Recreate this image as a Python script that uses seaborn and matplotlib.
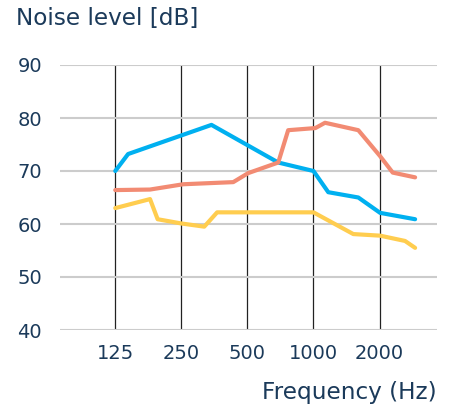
import matplotlib
matplotlib.use("Agg")
import matplotlib.pyplot as plt
import seaborn as sns
import pandas as pd

# Data
blue_freq = [125, 143, 343, 691, 1000, 1168, 1601, 2012, 2905]
blue_db = [70.0, 73.2, 78.7, 71.6, 70.0, 66.0, 65.0, 62.1, 60.9]

salmon_freq = [125, 180, 255, 431, 504, 691, 767, 1020, 1129, 1601, 2012, 2297, 2905]
salmon_db = [66.4, 66.5, 67.5, 67.9, 69.6, 71.6, 77.7, 78.1, 79.1, 77.7, 72.8, 69.7, 68.8]

yellow_freq = [125, 180, 195, 250, 318, 364, 1000, 1519, 2012, 2614, 2905]
yellow_db = [63.0, 64.7, 60.9, 60.1, 59.5, 62.2, 62.2, 58.1, 57.8, 56.8, 55.5]

x_ticks = [125, 250, 500, 1000, 2000]
x_labels = ["125", "250", "500", "1000", "2000"]
y_ticks = [40, 50, 60, 70, 80, 90]

colors = {"blue": "#00B0F0", "salmon": "#F28B73", "yellow": "#FFCD4F"}
text_color = "#1B3A5A"

sns.set_theme(style="white")
plt.rcParams["font.family"] = ["DejaVu Sans"]

fig = plt.figure(figsize=(4.54, 4.08), dpi=100)
ax = fig.add_axes([60 / 454, 1 - 330 / 408, (437 - 60) / 454, (330 - 65) / 408])

frames = []
for name, f, d in [("blue", blue_freq, blue_db), ("salmon", salmon_freq, salmon_db),
                   ("yellow", yellow_freq, yellow_db)]:
    frames.append(pd.DataFrame({"freq": f, "db": d, "series": name}))
df = pd.concat(frames, ignore_index=True)

sns.lineplot(data=df, x="freq", y="db", hue="series", palette=colors, sort=False,
             estimator=None, linewidth=3, legend=False, ax=ax, zorder=3)

ax.set_xscale("log", base=2)
ax.set_xlim(70, 3655)
ax.set_ylim(40, 90)
ax.set_xticks(x_ticks)
ax.set_xticklabels(x_labels)
ax.minorticks_off()
ax.set_yticks(y_ticks)

ax.xaxis.grid(True, color="#222222", linewidth=0.9)
ax.yaxis.grid(True, color="#cccccc", linewidth=1.5)
ax.set_axisbelow(True)
for s in ax.spines.values():
    s.set_visible(False)

ax.tick_params(axis="both", length=0, labelsize=14, colors=text_color)
ax.tick_params(axis="y", pad=13)
ax.tick_params(axis="x", pad=10)
ax.set_xlabel("")
ax.set_ylabel("")

fig.text(16 / 454, 1 - 18 / 408, "Noise level [dB]", fontsize=16.7, color=text_color,
         ha="left", va="center")
fig.text(437 / 454, 1 - 392 / 408, "Frequency (Hz)", fontsize=16.7, color=text_color,
         ha="right", va="center")

fig.savefig("out.png", dpi=100)
